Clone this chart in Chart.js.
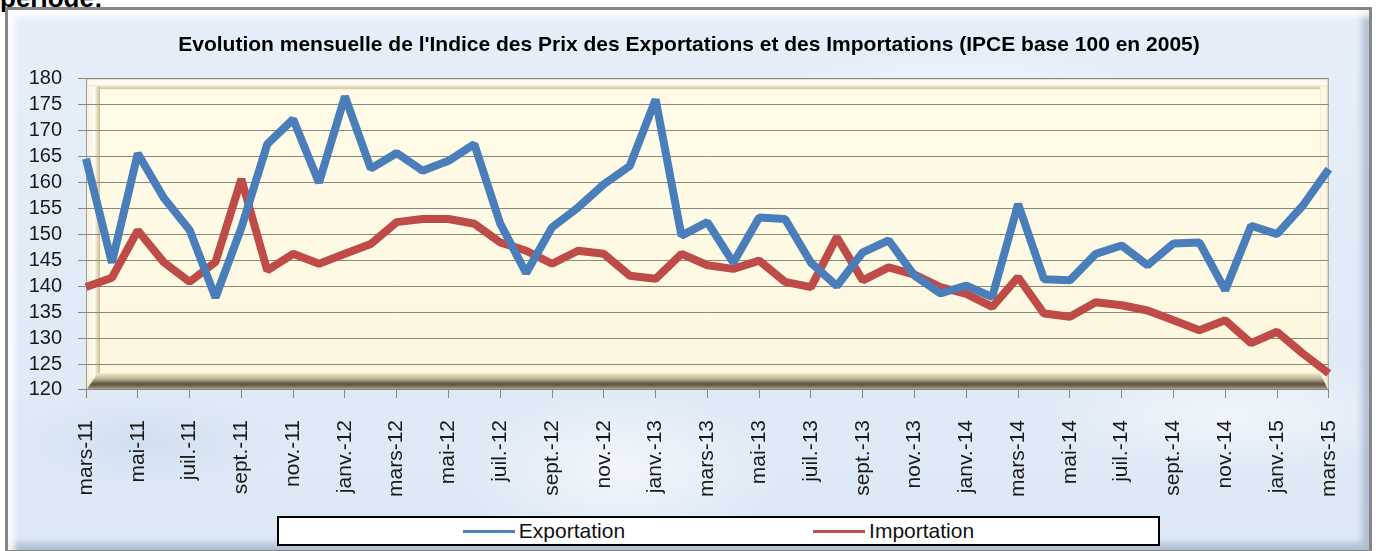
<!DOCTYPE html>
<html>
<head>
<meta charset="utf-8">
<script src="https://cdn.jsdelivr.net/npm/chart.js@4"></script>
<style>
  html, body { margin: 0; padding: 0; background: #fff; }
  body { width: 1376px; height: 551px; position: relative; overflow: hidden; font-family: "Liberation Sans", Arial, sans-serif; }
  #heading { position: absolute; left: 0; top: -17px; font: bold 26px "Liberation Sans", Arial, sans-serif; color: #000; }
  #frame {
    position: absolute; left: 5px; top: 7px; width: 1361px; height: 540px;
    border: 3px solid #858585;
    background:
      radial-gradient(ellipse 180px 60px at 20% 30%, rgba(255,255,255,.6), rgba(255,255,255,0)),
      radial-gradient(ellipse 220px 70px at 70% 20%, rgba(255,255,255,.55), rgba(255,255,255,0)),
      radial-gradient(ellipse 160px 80px at 45% 85%, rgba(255,255,255,.6), rgba(255,255,255,0)),
      radial-gradient(ellipse 200px 60px at 90% 75%, rgba(255,255,255,.55), rgba(255,255,255,0)),
      radial-gradient(ellipse 140px 50px at 10% 80%, rgba(200,218,240,.6), rgba(200,218,240,0)),
      linear-gradient(180deg, #e6eff9, #dce8f5);
    box-shadow: inset 7px 7px 5px rgba(255,255,255,.8), inset -7px -7px 6px rgba(110,130,160,.4);
  }
  #wrap { position: absolute; left: 0; top: 0; width: 1376px; height: 551px; }
  #legend {
    position: absolute; left: 277px; top: 516px; width: 883px; height: 30px; box-sizing: border-box;
    border: 2px solid #000; background: #fff;
    display: flex; justify-content: center; align-items: center; gap: 188px;
    font: 21px "Liberation Sans", Arial, sans-serif; color: #111;
  }
  #legend .item { display: flex; align-items: center; }
  #legend .swatch { width: 52px; height: 3px; margin-right: 4px; }
</style>
</head>
<body>
<div id="heading">période:</div>
<div id="frame"></div>
<div id="wrap"><canvas id="lineChart" width="1376" height="551"></canvas></div>
<div id="legend"></div>
<script>
const months = [
  "mars-11", "avr.-11", "mai-11", "juin-11", "juil.-11", "août-11", "sept.-11", "oct.-11", "nov.-11", "déc.-11",
  "janv.-12", "févr.-12", "mars-12", "avr.-12", "mai-12", "juin-12", "juil.-12", "août-12", "sept.-12", "oct.-12", "nov.-12", "déc.-12",
  "janv.-13", "févr.-13", "mars-13", "avr.-13", "mai-13", "juin-13", "juil.-13", "août-13", "sept.-13", "oct.-13", "nov.-13", "déc.-13",
  "janv.-14", "févr.-14", "mars-14", "avr.-14", "mai-14", "juin-14", "juil.-14", "août-14", "sept.-14", "oct.-14", "nov.-14", "déc.-14",
  "janv.-15", "févr.-15", "mars-15",
];

const exportation = [
  164.5, 144.5, 165.5, 157, 150.8, 137.8, 151.2, 167.3, 172.1, 159.9,
  176.5, 162.6, 165.6, 162.2, 164.1, 167.3, 152, 142.5, 151.3, 155.1, 159.6, 163.1,
  175.9, 149.7, 152.3, 144.5, 153.2, 152.9, 144.5, 140, 146.5, 148.8, 142, 138.6,
  140.1, 137.9, 155.8, 141.3, 141.1, 146.2, 147.8, 144, 148.2, 148.4, 139.2, 151.6,
  150, 155.5, 162.5,
];

const importation = [
  139.8, 141.6, 150.7, 144.6, 140.8, 144.6, 160.6, 143, 146.2, 144.3,
  146.2, 148.1, 152.3, 152.9, 152.9, 152, 148.4, 146.8, 144.3, 146.8, 146.2, 142,
  141.4, 146.2, 144, 143.3, 144.9, 140.8, 139.8, 149.4, 141.1, 143.6, 142.2, 139.8,
  138.5, 136, 141.7, 134.7, 134.1, 136.9, 136.3, 135.3, 133.4, 131.5, 133.4, 129,
  131.2, 127, 123.2,
];

const TITLE = "Evolution mensuelle de l'Indice des Prix des Exportations et des Importations (IPCE base 100 en 2005)";

const COLORS = {
  exportLine: "#4a7ebb",
  importLine: "#be4b48",
  exportKey: "#4f81bd",
  importKey: "#c0504d",
  grid: "#8a877c",
  text: "#1a1a1a",
};

const FONT = "'Liberation Sans', Arial, sans-serif";

// cream panel with an embossed edge, painted under the grid
const plotPanel = {
  id: "plotPanel",
  beforeDraw(chart) {
    const { ctx, chartArea: a } = chart;
    const w = a.right - a.left;
    const h = a.bottom - a.top;
    ctx.save();

    ctx.fillStyle = "#f4ecd0";
    ctx.fillRect(a.left, a.top, w, h);

    // inner face
    let g = ctx.createLinearGradient(0, a.top + 10, 0, a.bottom - 14);
    g.addColorStop(0, "#fffbe8");
    g.addColorStop(1, "#fdf7df");
    ctx.fillStyle = g;
    ctx.fillRect(a.left + 12, a.top + 10, w - 20, h - 24);

    // light top and left rims
    g = ctx.createLinearGradient(0, a.top, 0, a.top + 10);
    g.addColorStop(0, "#fbf6e6");
    g.addColorStop(0.6, "#fffdf4");
    g.addColorStop(1, "#d9cca4");
    ctx.fillStyle = g;
    ctx.fillRect(a.left + 2, a.top + 1, w - 4, 10);

    g = ctx.createLinearGradient(a.left, 0, a.left + 13, 0);
    g.addColorStop(0, "#f7f0da");
    g.addColorStop(0.65, "#fffdf3");
    g.addColorStop(1, "#d2c49a");
    ctx.fillStyle = g;
    ctx.fillRect(a.left + 1, a.top + 8, 13, h - 20);

    // right rim
    g = ctx.createLinearGradient(a.right - 9, 0, a.right, 0);
    g.addColorStop(0, "#f6eed2");
    g.addColorStop(0.5, "#fffbee");
    g.addColorStop(1, "#e8dfc4");
    ctx.fillStyle = g;
    ctx.fillRect(a.right - 9, a.top + 8, 8, h - 20);

    // dark bottom bevel
    g = ctx.createLinearGradient(0, a.bottom - 17, 0, a.bottom);
    g.addColorStop(0, "#f3ead0");
    g.addColorStop(0.3, "#c8bd9e");
    g.addColorStop(0.65, "#5a5242");
    g.addColorStop(0.85, "#8a8068");
    g.addColorStop(1, "#d9d0b6");
    ctx.fillStyle = g;
    ctx.beginPath();
    ctx.moveTo(a.left + 12, a.bottom - 17);
    ctx.lineTo(a.right - 9, a.bottom - 17);
    ctx.lineTo(a.right - 1, a.bottom - 1);
    ctx.lineTo(a.left + 1, a.bottom - 1);
    ctx.closePath();
    ctx.fill();

    ctx.strokeStyle = "#a49e8c";
    ctx.lineWidth = 1;
    ctx.strokeRect(a.left + 0.5, a.top + 0.5, w - 1, h - 1);
    ctx.restore();
  },
};

const ctx = document.getElementById("lineChart").getContext("2d");

const config = {
  type: "line",
  data: {
    labels: months,
    datasets: [
      {
        label: "Exportation",
        data: exportation,
        borderColor: COLORS.exportLine,
        backgroundColor: COLORS.exportKey,
        borderWidth: 8,
        borderJoinStyle: "bevel",
        pointRadius: 0,
        tension: 0,
      },
      {
        label: "Importation",
        data: importation,
        borderColor: COLORS.importLine,
        backgroundColor: COLORS.importKey,
        borderWidth: 8,
        borderJoinStyle: "bevel",
        pointRadius: 0,
        tension: 0,
      },
    ],
  },
  options: {
    responsive: false,
    animation: false,
    layout: { autoPadding: false, padding: { left: 28, right: 26, top: 0, bottom: 32 } },
    plugins: {
      legend: { display: false },
      tooltip: { enabled: false },
      title: {
        display: true,
        text: TITLE,
        color: "#000",
        font: { family: FONT, size: 21, weight: "bold" },
        padding: { top: 33, bottom: 20 },
      },
    },
    scales: {
      x: {
        offset: false,
        grid: {
          drawOnChartArea: false,
          drawTicks: true,
          tickLength: 8,
          tickColor: (c) => (c.index % 2 === 0 ? COLORS.grid : "rgba(0,0,0,0)"),
        },
        border: { display: true, color: COLORS.grid },
        ticks: {
          autoSkip: false,
          maxRotation: 90,
          minRotation: 90,
          padding: 22,
          color: COLORS.text,
          font: { family: FONT, size: 21 },
          callback: (val, i) => (i % 2 === 0 ? months[i] : ""),
        },
      },
      y: {
        min: 120,
        max: 180,
        // fixed axis width: tick mark + padding + widest label
        afterFit: (scale) => { scale.width = 58; },
        grid: { color: COLORS.grid, lineWidth: 1, tickLength: 8 },
        border: { display: false },
        ticks: {
          stepSize: 5,
          autoSkip: false,
          padding: 16,
          color: COLORS.text,
          font: { family: FONT, size: 20 },
        },
      },
    },
  },
  plugins: [plotPanel],
};

const lineChart = new Chart(ctx, config);

// legend strip under the chart, built from the datasets
const legendBox = document.getElementById("legend");
lineChart.data.datasets.forEach((ds) => {
  const item = document.createElement("div");
  item.className = "item";
  const swatch = document.createElement("span");
  swatch.className = "swatch";
  swatch.style.background = ds.backgroundColor;
  const label = document.createElement("span");
  label.textContent = ds.label;
  item.appendChild(swatch);
  item.appendChild(label);
  legendBox.appendChild(item);
});
</script>
</body>
</html>
